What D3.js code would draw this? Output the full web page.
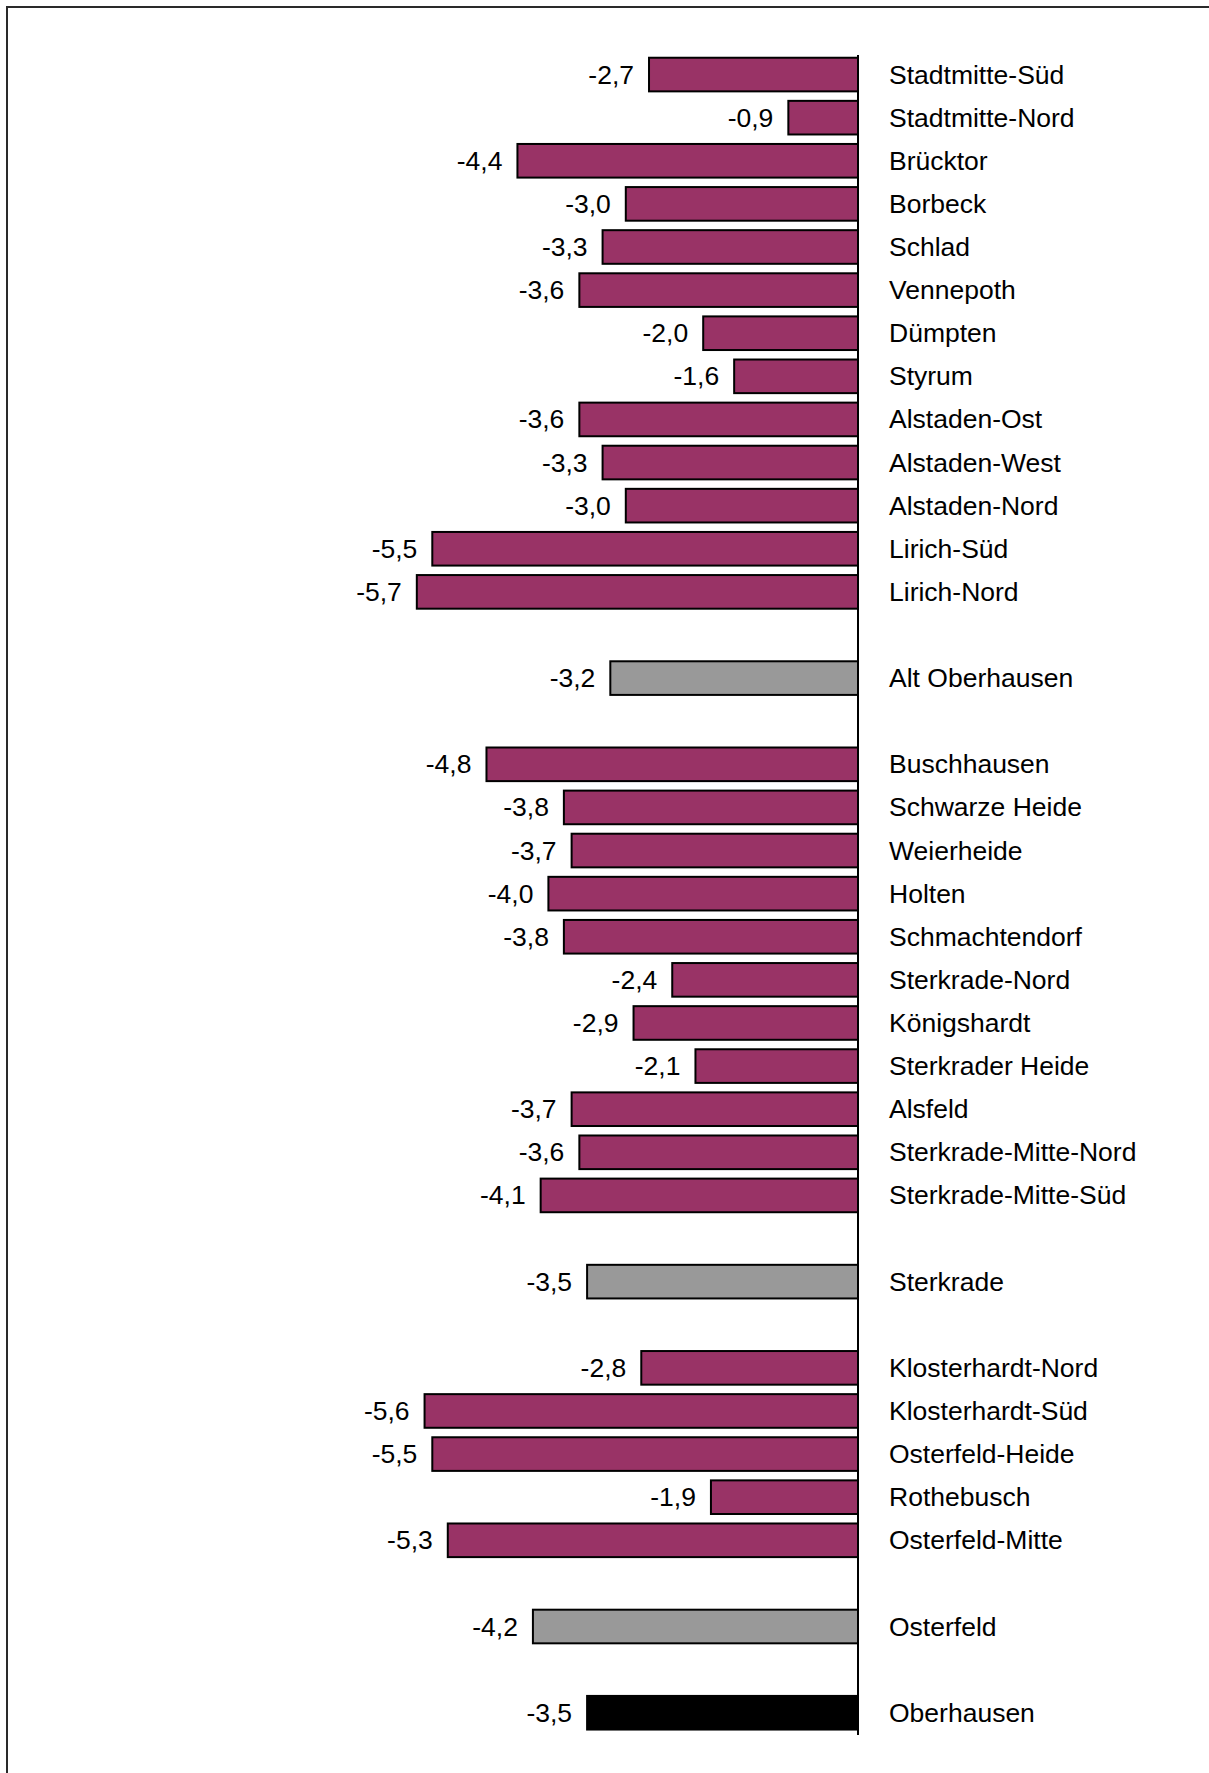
<!DOCTYPE html>
<html>
<head>
<meta charset="utf-8">
<script src="https://cdn.jsdelivr.net/npm/d3@7"></script>
<style>
  html, body { margin: 0; padding: 0; background: #fff; }
  svg { display: block; }
  text { font-family: Arial, "Liberation Sans", sans-serif; fill: #000; }
</style>
</head>
<body>
<svg id="chart" width="1209" height="1773"></svg>
<script>
// Categories in display order; "" marks an empty spacer row
const categories = [
  "Stadtmitte-Süd", "Stadtmitte-Nord", "Brücktor", "Borbeck", "Schlad", "Vennepoth",
  "Dümpten", "Styrum", "Alstaden-Ost", "Alstaden-West", "Alstaden-Nord", "Lirich-Süd",
  "Lirich-Nord", "", "Alt Oberhausen", "",
  "Buschhausen", "Schwarze Heide", "Weierheide", "Holten", "Schmachtendorf",
  "Sterkrade-Nord", "Königshardt", "Sterkrader Heide", "Alsfeld", "Sterkrade-Mitte-Nord",
  "Sterkrade-Mitte-Süd", "", "Sterkrade", "",
  "Klosterhardt-Nord", "Klosterhardt-Süd", "Osterfeld-Heide", "Rothebusch", "Osterfeld-Mitte",
  "", "Osterfeld", "", "Oberhausen"
];
const values = [
  -2.7, -0.9, -4.4, -3.0, -3.3, -3.6,
  -2.0, -1.6, -3.6, -3.3, -3.0, -5.5,
  -5.7, null, -3.2, null,
  -4.8, -3.8, -3.7, -4.0, -3.8,
  -2.4, -2.9, -2.1, -3.7, -3.6,
  -4.1, null, -3.5, null,
  -2.8, -5.6, -5.5, -1.9, -5.3,
  null, -4.2, null, -3.5
];
// level: d = Stadtteil, b = Stadtbezirk, s = Stadt
const levels = [
  "d","d","d","d","d","d","d","d","d","d","d","d","d", null, "b", null,
  "d","d","d","d","d","d","d","d","d","d","d", null, "b", null,
  "d","d","d","d","d", null, "b", null, "s"
];
const xDomain = [-6, 0];

const colors = { d: "#993366", b: "#999999", s: "#000000" };

const svg = d3.select("#chart");

// frame (visible top & left edges)
svg.append("path")
  .attr("d", "M7,1773 L7,7 L1209,7")
  .attr("fill", "none").attr("stroke", "#2a2a2a").attr("stroke-width", 2);

const x = d3.scaleLinear().domain(xDomain).range([393.6, 858]);
const y = d3.scaleBand()
  .domain(d3.range(categories.length))
  .range([53, 53 + categories.length * 43.11])
  .paddingInner(0.22).paddingOuter(0.11);

const rows = categories.map((c, i) => ({ c, v: values[i], lv: levels[i], i }))
  .filter(r => r.v !== null);

svg.selectAll("rect.bar").data(rows).enter().append("rect")
  .attr("class", "bar")
  .attr("x", d => x(d.v))
  .attr("y", d => y(d.i))
  .attr("width", d => x(0) - x(d.v))
  .attr("height", y.bandwidth())
  .attr("fill", d => colors[d.lv])
  .attr("stroke", "#000")
  .attr("stroke-width", 2);

// vertical zero axis
svg.append("line")
  .attr("x1", x(0)).attr("x2", x(0))
  .attr("y1", 55).attr("y2", 1735)
  .attr("stroke", "#000").attr("stroke-width", 2);

// value labels
const fmt = v => d3.format(".1f")(v).replace(".", ",").replace("−", "-");
svg.selectAll("text.val").data(rows).enter().append("text")
  .attr("class", "val")
  .attr("x", d => x(d.v) - 15)
  .attr("y", d => y(d.i) + y.bandwidth() / 2)
  .attr("dy", "0.34em")
  .attr("text-anchor", "end")
  .attr("font-size", "26.5px")
  .text(d => fmt(d.v));

// category labels
svg.selectAll("text.cat").data(rows).enter().append("text")
  .attr("class", "cat")
  .attr("x", x(0) + 31)
  .attr("y", d => y(d.i) + y.bandwidth() / 2)
  .attr("dy", "0.34em")
  .attr("text-anchor", "start")
  .attr("font-size", "26.5px")
  .text(d => d.c);
</script>
</body>
</html>
